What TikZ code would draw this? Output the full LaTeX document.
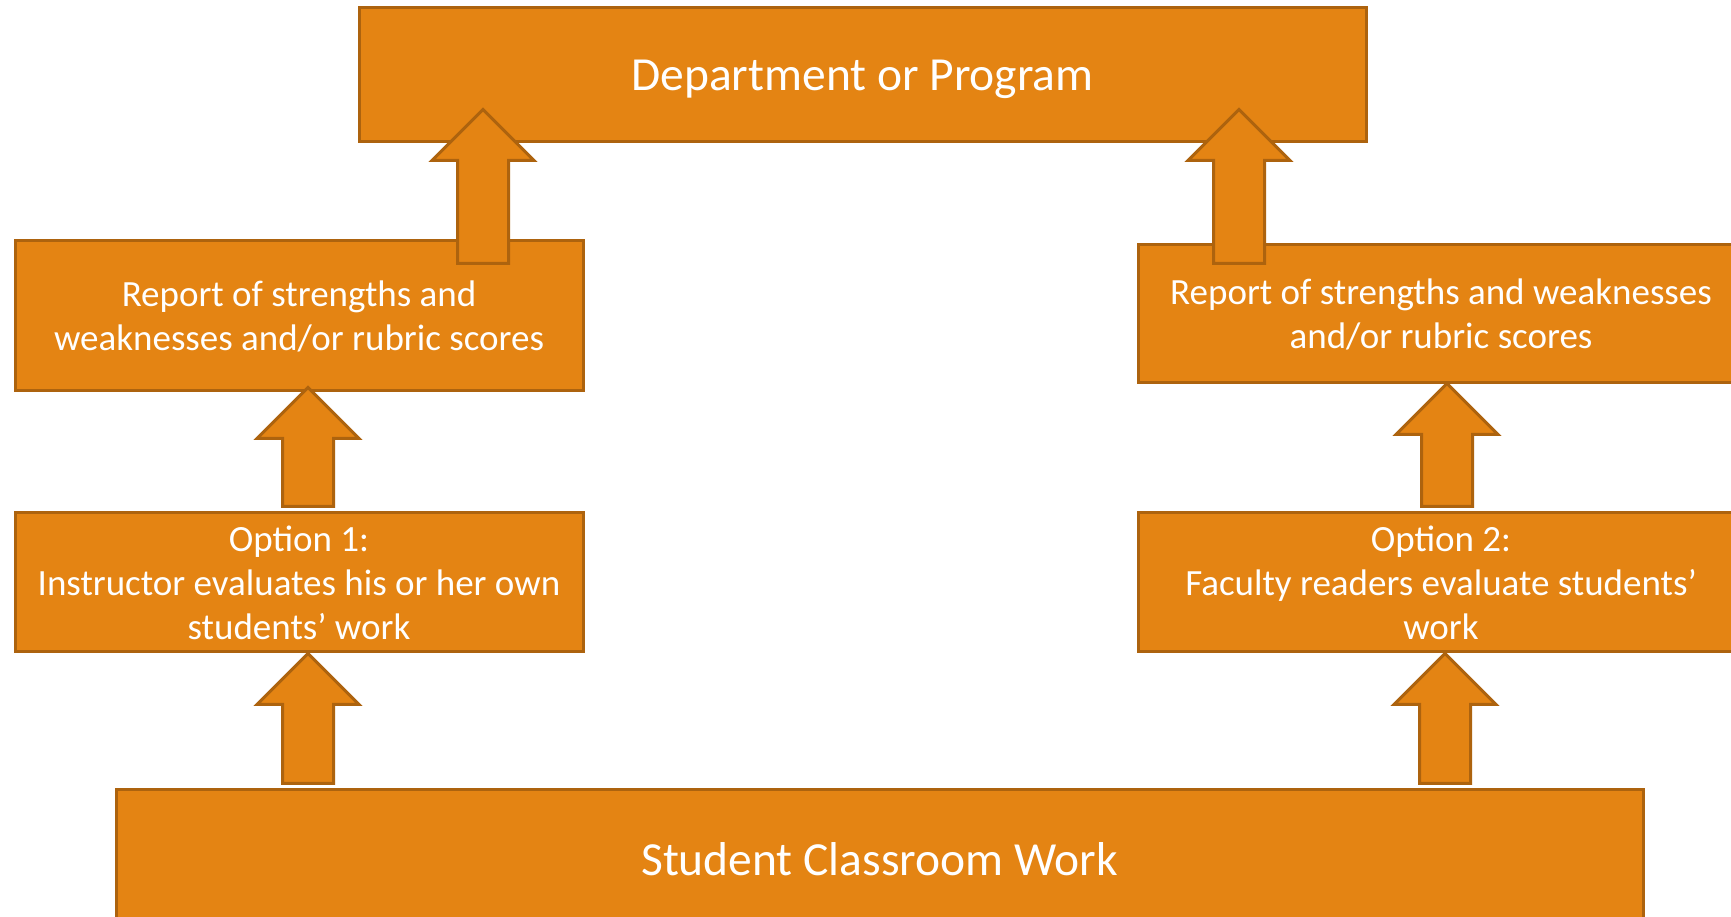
\documentclass[tikz,border=0pt]{standalone}
\usepackage{fontspec}
\setmainfont{Carlito}
\usetikzlibrary{calc}
\definecolor{boxfill}{HTML}{E48413}
\definecolor{boxline}{HTML}{AD630E}

% upward block arrow from #1 (tail) to #2 (tip)
\newcommand{\blockup}[2]{%
  \draw[blockarrow] let \p1=(#1), \p2=(#2) in
    (\x1-25.5pt,\y1) -- (\x1-25.5pt,\y2-51pt) -- (\x1-51pt,\y2-51pt)
    -- (\x1,\y2) -- (\x1+51pt,\y2-51pt) -- (\x1+25.5pt,\y2-51pt)
    -- (\x1+25.5pt,\y1) -- cycle;}

\begin{document}
\begin{tikzpicture}
			[x=1pt,y=1pt,
			 box/.style={rectangle,draw=boxline,fill=boxfill,line width=3pt,text=white,align=center,
			   font=\fontsize{37}{44}\selectfont,inner sep=0pt},
			 bigbox/.style={box,font=\fontsize{47.5}{57}\selectfont,text depth=0pt},
			 blockarrow/.style={draw=boxline,fill=boxfill,line width=3pt}]
			\fill[white] (0,0) rectangle (1731,917);
			\clip (0,0) rectangle (1731,917);
			% boxes
			\node[bigbox,name=dept,minimum width=1007pt,minimum height=134pt] at (862.5,842) {Department or Program};
			\node[box,name=rep1,minimum width=568pt,minimum height=150pt] at (299,601) {Report of strengths and\\weaknesses and/or rubric scores};
			\node[box,name=rep2,minimum width=606pt,minimum height=138pt] at (1441,603) {Report of strengths and weaknesses\\and/or rubric scores};
			\node[box,name=opt1,minimum width=568pt,minimum height=139pt] at (299,334.5) {Option 1:\\Instructor evaluates his or her own\\students’ work};
			\node[box,name=opt2,minimum width=606pt,minimum height=139pt] at (1441,334.5) {Option 2:\\Faculty readers evaluate students’\\work};
			\node[bigbox,name=work,minimum width=1527pt,minimum height=138pt] at (879.5,58) {Student Classroom Work};
			% arrow columns
			\coordinate (c1) at (483,0);
			\coordinate (c2) at (1239,0);
			\coordinate (c3) at (308,0);
			\coordinate (c4) at (1447,0);
			\coordinate (c5) at (1445,0);
			% arrows
			\blockup{$(c1 |- rep1.north)+(0,-24)$}{$(c1 |- dept.south)+(0,34)$}
			\blockup{$(c2 |- rep2.north)+(0,-20)$}{$(c2 |- dept.south)+(0,34)$}
			\blockup{$(c3 |- opt1.north)+(0,5)$}{$(c3 |- rep1.south)+(0,5)$}
			\blockup{$(c4 |- opt2.north)+(0,5)$}{$(c4 |- rep2.south)+(0,1)$}
			\blockup{$(c3 |- work.north)+(0,5)$}{c3 |- opt1.south}
			\blockup{$(c5 |- work.north)+(0,5)$}{c5 |- opt2.south}
		\end{tikzpicture}
\end{document}
